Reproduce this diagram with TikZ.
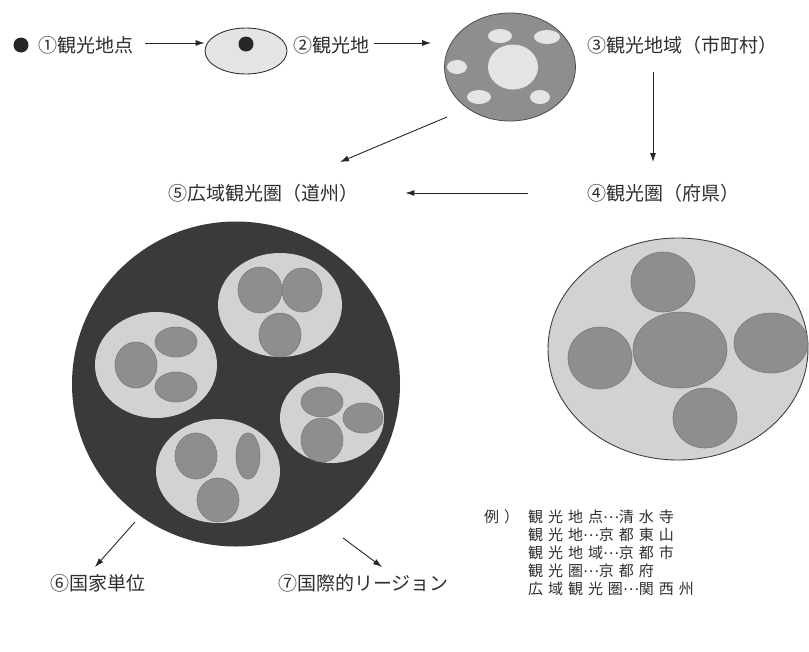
\documentclass[tikz,border=0pt]{standalone}
\usepackage{fontspec}
\newfontfamily\jp{Noto Sans CJK JP}
\newfontfamily\jpex{Noto Sans CJK JP}[LetterSpace=33]
\usetikzlibrary{arrows.meta,calc,shapes.geometric}
\definecolor{darkfill}{HTML}{3A3A3A}
\definecolor{midfill}{HTML}{8E8E8E}
\definecolor{midline}{HTML}{7A7A7A}
\definecolor{lightfill}{HTML}{D2D2D2}
\definecolor{paler}{HTML}{E4E4E4}
\definecolor{txt}{HTML}{2E2E2E}
\newcommand{\midell}{\raisebox{0.3em}{…}}
\begin{document}
\begin{tikzpicture}[x=1pt,y=-1pt,
  lbl/.style={font=\jp\fontsize{19}{21}\selectfont, inner sep=0pt, text=txt, anchor=west},
  exl/.style={font=\jpex\fontsize{15}{17}\selectfont, inner sep=0pt, text=txt, anchor=west},
  blob/.style={ellipse, inner sep=0pt},
  arr/.style={draw=black!85, line width=0.9pt, -{Latex[length=9pt,width=6pt]}}]
\useasboundingbox (0,0) rectangle (809,651);

% ---- top row
\node[circle, fill=black!85, minimum size=15pt, inner sep=0pt] (d1) at (21,45) {};
\node[lbl] (l1) at (38,45) {①観光地点};
\node[blob, draw=black!80, line width=0.9pt, fill=paler, minimum width=82pt, minimum height=46pt] (e2) at (246,51) {};
\node[circle, fill=black!85, minimum size=15pt, inner sep=0pt] (d2) at (246,44) {};
\node[lbl] (l2) at (293,45) {②観光地};

\node[blob, draw=black!70, line width=0.8pt, fill=midfill, minimum width=131pt, minimum height=108pt] (c3) at (510,67) {};
\node[blob, fill=paler, minimum width=50pt, minimum height=45pt] (c3in) at (513,67) {};
\node[blob, fill=paler, minimum width=24pt, minimum height=14pt] (s1) at (500,36) {};
\node[blob, fill=paler, minimum width=26pt, minimum height=14pt] (s2) at (547,37) {};
\node[blob, fill=paler, minimum width=20pt, minimum height=14pt] (s3) at (457,67) {};
\node[blob, fill=paler, minimum width=24pt, minimum height=14pt] (s4) at (479,97) {};
\node[blob, fill=paler, minimum width=20pt, minimum height=14pt] (s5) at (540,97) {};
\node[lbl] (l3) at (587,45) {③観光地域（市町村）};

\node[lbl] (l4) at (587,193) {④観光圏（府県）};
\node[lbl] (l5) at (168,193) {⑤広域観光圏（道州）};

% ---- arrows
\draw[arr] (l1.east) ++(12,-2) coordinate (a1s) -- (a1s -| e2.west);
\draw[arr] (l2.east) ++(5,-2) coordinate (a2s) -- ($(a2s -| c3.west)+(-13,0)$);
\coordinate (a3s) at (653,72);
\coordinate (a3e) at (653,162);
\draw[arr] (a3s) -- (a3e);
\draw[arr, shorten <=59pt, shorten >=47pt] (l4.west) -- (l5.east);
\coordinate (a5s) at (447,117);
\coordinate (a5e) at (340,162);
\draw[arr] (a5s) -- (a5e);

% ---- big dark circle (5)
\node[blob, fill=darkfill, minimum width=328pt, minimum height=325pt] (big) at (236,384) {};
\node[blob, fill=lightfill, minimum width=124pt, minimum height=104pt] (g1) at (280,305) {};
\node[blob, fill=lightfill, minimum width=122pt, minimum height=106pt] (g2) at (156,365) {};
\node[blob, fill=lightfill, minimum width=104pt, minimum height=90pt] (g3) at (332,418) {};
\node[blob, fill=lightfill, minimum width=124pt, minimum height=104pt] (g4) at (218,471) {};
\tikzset{inner/.style={blob, fill=midfill, draw=midline, line width=0.6pt}}
\node[inner, minimum width=44pt, minimum height=46pt] at (260,290) {};
\node[inner, minimum width=40pt, minimum height=44pt] at (302,290) {};
\node[inner, minimum width=42pt, minimum height=44pt] at (280,335) {};
\node[inner, minimum width=42pt, minimum height=46pt] at (136,365) {};
\node[inner, minimum width=42pt, minimum height=30pt] at (176,342) {};
\node[inner, minimum width=42pt, minimum height=30pt] at (176,387) {};
\node[inner, minimum width=42pt, minimum height=30pt] at (322,402) {};
\node[inner, minimum width=40pt, minimum height=30pt] at (363,418) {};
\node[inner, minimum width=42pt, minimum height=44pt] at (322,440) {};
\node[inner, minimum width=42pt, minimum height=46pt] at (196,456) {};
\node[inner, minimum width=24pt, minimum height=46pt] at (248,456) {};
\node[inner, minimum width=42pt, minimum height=44pt] at (218,500) {};

% ---- right ellipse (4)
\node[blob, fill=lightfill, draw=black!75, line width=0.9pt, minimum width=260pt, minimum height=222pt] (r4) at (678,349) {};
\node[inner, minimum width=64pt, minimum height=60pt] at (663,282) {};
\node[inner, minimum width=64pt, minimum height=62pt] at (600,358) {};
\node[inner, minimum width=74pt, minimum height=60pt] at (771,343) {};
\node[inner, minimum width=64pt, minimum height=60pt] at (705,418) {};
\node[inner, minimum width=94pt, minimum height=76pt] at (680,350) {};

% ---- bottom labels
\node[lbl] (l6) at (50,583) {⑥国家単位};
\node[lbl] (l7) at (278,583) {⑦国際的リージョン};
\coordinate (a6s) at (135,522);
\coordinate (a6e) at (95,567);
\draw[arr] (a6s) -- (a6e);
\coordinate (a7s) at (343,538);
\coordinate (a7e) at (382,567);
\draw[arr] (a7s) -- (a7e);

% ---- examples
\node[exl] (ex0) at (484,517) {例）};
\node[exl] (ex1) at (528,517) {観光地点\midell 清水寺};
\node[exl] (ex2) at (528,535) {観光地\midell 京都東山};
\node[exl] (ex3) at (528,553) {観光地域\midell 京都市};
\node[exl] (ex4) at (528,571) {観光圏\midell 京都府};
\node[exl] (ex5) at (528,589) {広域観光圏\midell 関西州};
\end{tikzpicture}
\end{document}
